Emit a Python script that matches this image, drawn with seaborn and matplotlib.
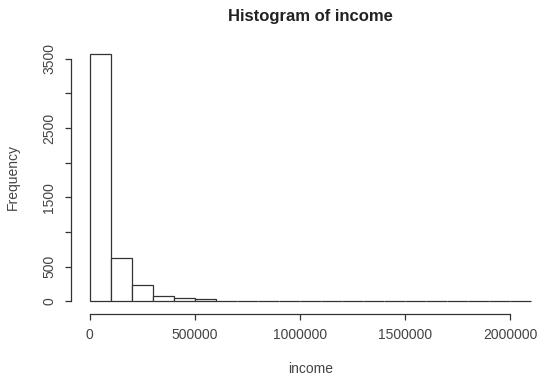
import matplotlib
matplotlib.use("Agg")
import matplotlib.pyplot as plt
import seaborn as sns
import numpy as np

# Income histogram: bin edges (100k wide) and frequency per bin
bin_edges = [0, 100000, 200000, 300000, 400000, 500000, 600000, 700000,
             800000, 900000, 1000000, 1100000, 1200000, 1300000, 1400000,
             1500000, 1600000, 1700000, 1800000, 1900000, 2000000, 2100000]
frequency = [3572, 617, 228, 70, 40, 25, 5, 3, 2, 2, 1,
             1, 1, 0, 1, 0, 0, 0, 1, 0, 1]
x_ticks = [0, 500000, 1000000, 1500000, 2000000]
x_tick_labels = ["0", "500000", "1000000", "1500000", "2000000"]
y_ticks = [0, 500, 1000, 1500, 2000, 2500, 3000, 3500]
y_tick_labels = ["0", "500", "", "1500", "", "2500", "", "3500"]

sns.set_style("ticks")
plt.rcParams["font.family"] = ["Liberation Sans", "DejaVu Sans"]

ink = "#333333"
W, H = 539, 377
fig = plt.figure(figsize=(W / 100, H / 100), dpi=100)
left, right, top, bottom = 72, 549, 44, 311
ax = fig.add_axes([left / W, 1 - bottom / H, (right - left) / W, (bottom - top) / H])

mids = [(a + b) / 2 for a, b in zip(bin_edges[:-1], bin_edges[1:])]
sns.histplot(x=mids, weights=frequency, bins=bin_edges, stat="count",
             color="white", edgecolor=ink, linewidth=0.9, alpha=1, ax=ax)

# R-like extents: 4% padding around the data range
xr = bin_edges[-1] - bin_edges[0]
ax.set_xlim(bin_edges[0] - 0.04 * xr, bin_edges[-1] + 0.04 * xr)
ymax = max(frequency)
ax.set_ylim(-0.04 * ymax, ymax * 1.04)

for s in ("top", "right"):
    ax.spines[s].set_visible(False)
for s in ("left", "bottom"):
    ax.spines[s].set_color(ink)
    ax.spines[s].set_linewidth(0.9)
ax.spines["left"].set_bounds(0, 3500)
ax.spines["bottom"].set_bounds(0, 2000000)
ax.spines["bottom"].set_position(("outward", 2))
ax.spines["left"].set_position(("outward", 1))

ax.set_xticks(x_ticks)
ax.set_xticklabels(x_tick_labels)
ax.set_yticks(y_ticks)
ax.set_yticklabels(y_tick_labels, rotation=90, va="center")
ax.tick_params(axis="both", direction="out", length=4.5, width=0.9,
               bottom=True, left=True,
               color=ink, labelcolor="#444444", labelsize=10)
ax.tick_params(axis="x", pad=6)
ax.tick_params(axis="y", pad=6)

ax.set_xlabel("income", fontsize=10, color="#444444")
ax.set_ylabel("Frequency", fontsize=10, color="#444444")
ax.xaxis.set_label_coords(0.5, -0.19)
ax.yaxis.set_label_coords(-0.11, 0.5)
ax.set_title("Histogram of income", fontsize=12, fontweight="bold",
             color="#222222", y=1.055)
ax.grid(False)

fig.savefig("out.png", dpi=100)
